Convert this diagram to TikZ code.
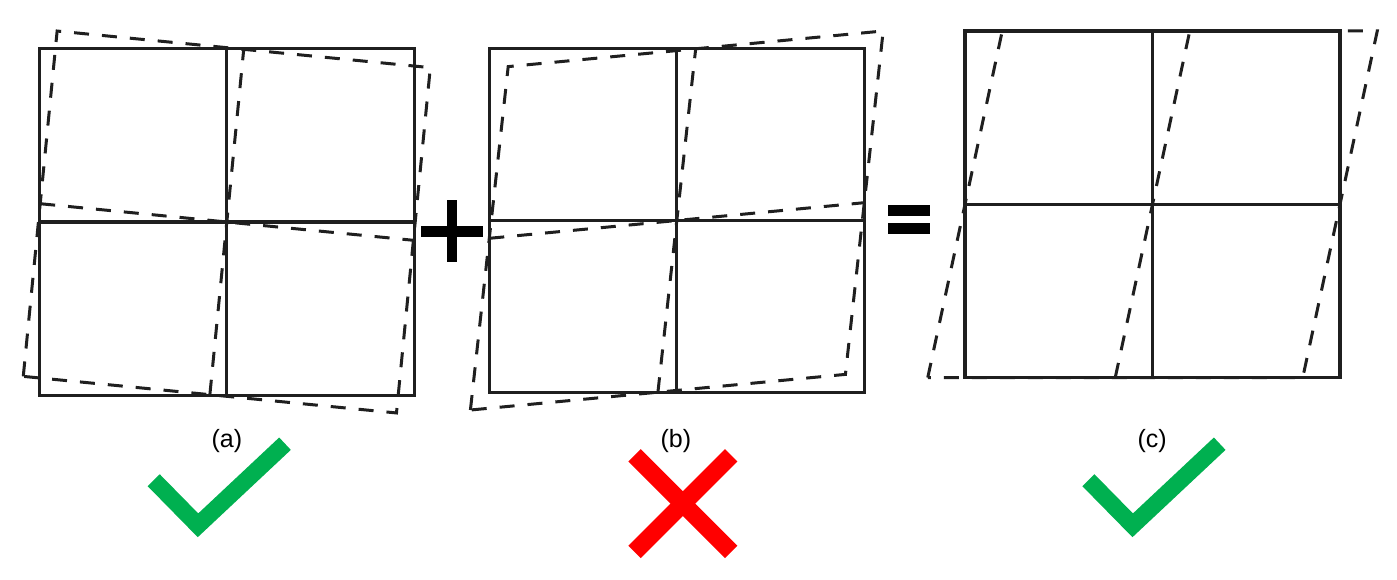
\documentclass[tikz,border=0pt]{standalone}
\usepackage{fontspec}
\setmainfont{Liberation Sans}
\usepackage{tikz}
\usetikzlibrary{arrows}
\definecolor{okgreen}{RGB}{0,176,80}
\definecolor{badred}{RGB}{255,0,0}

% one 2x2 block of cells, centred on the origin: style, half height
\newcommand{\cellgrid}[2]{%
  \draw[#1] (-187.5,-#2) rectangle (187.5,#2);
  \draw[#1] (-187.5,0) -- (187.5,0);
  \draw[#1] (0,-#2) -- (0,#2);}

\begin{document}
\begin{tikzpicture}[x=1pt,y=1pt,line join=miter]
		\tikzstyle{cellline}=[line width=3.2pt,black!88]
		\tikzstyle{dashline}=[line width=3pt,black!88,dash pattern=on 15pt off 13pt]
		\tikzstyle{okmark}=[line width=17pt,okgreen,miter limit=10]
		\tikzstyle{badmark}=[line width=17.5pt,badred]
		\tikzstyle{caption}=[anchor=base,inner sep=0pt,font=\fontsize{25}{29}\selectfont]

		\useasboundingbox (0,0) rectangle (1397,579);

		% (a) rotation
		\begin{scope}[shift={(226.8,357)}]
			\begin{scope}[rotate=-5.6]
				\cellgrid{dashline}{173.5}
			\end{scope}
			\cellgrid{cellline}{173.5}
		\end{scope}

		% (b) pure shear
		\begin{scope}[shift={(676.8,358.5)}]
			\begin{scope}[cm={1,0.095,0.11,1,(0,0)}]
				\cellgrid{dashline}{171.7}
			\end{scope}
			\cellgrid{cellline}{171.7}
		\end{scope}

		% (c) simple shear
		\begin{scope}[shift={(1152.5,374.7)}]
			\begin{scope}[xslant=0.215]
				\cellgrid{dashline}{173.3}
			\end{scope}
			\cellgrid{cellline}{173.3}
		\end{scope}

		% + and =
		\fill[black] (420.7,342.3) rectangle (482.7,353);
		\fill[black] (446.7,317.3) rectangle (456.7,379);
		\fill[black] (888.3,363.3) rectangle (930,374);
		\fill[black] (888.3,345.3) rectangle (930,356.3);

		\node[caption] (capa) at (226.8,132) {(a)};
		\node[caption] (capb) at (675.8,132) {(b)};
		\node[caption] (capc) at (1152.2,132) {(c)};

		\draw[okmark] (153.7,98.8) -- (198,53.7) -- (285,135.3);
		\draw[okmark] (1088.4,98.8) -- (1132.7,53.7) -- (1219.7,135.3);
		\draw[badmark] (634.5,123.7) -- (731.2,27);
		\draw[badmark] (731.2,123.7) -- (634.5,27);
\end{tikzpicture}
\end{document}
